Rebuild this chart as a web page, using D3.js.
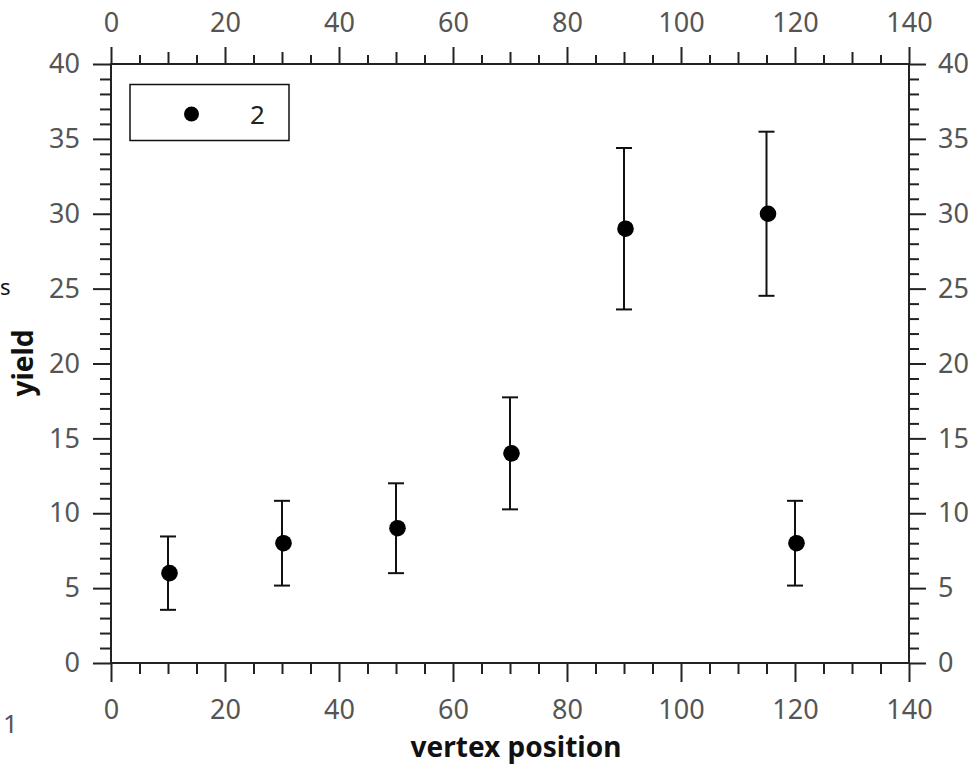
<!DOCTYPE html>
<html>
<head>
<meta charset="utf-8">
<script src="https://cdn.jsdelivr.net/npm/d3@7"></script>
<style>
  html, body { margin: 0; padding: 0; background: #fff; }
  svg { display: block; }
</style>
</head>
<body>
<svg id="chart" width="973" height="765"></svg>
<script>
// ---- data ----
const xValues = [10, 30, 50, 70, 90, 115, 120];
const yValues = [6, 8, 9, 14, 29, 30, 8];
const yErrors = [2.45, 2.83, 3.0, 3.74, 5.39, 5.48, 2.83];
const seriesName = "2";
const xTicks = [0, 20, 40, 60, 80, 100, 120, 140];
const yTicks = [0, 5, 10, 15, 20, 25, 30, 35, 40];
const xTitle = "vertex position";
const yTitle = "yield";

// ---- layout ----
const W = 973, H = 765;
const m = { left: 111, right: 64, top: 64, bottom: 102 };
const svg = d3.select("#chart");
const font = "'Noto Sans', 'Open Sans', sans-serif";
const tickFont = "27px";

const x = d3.scaleLinear().domain([0, 140]).range([m.left, W - m.right]);
const y = d3.scaleLinear().domain([0, 40]).range([H - m.bottom, m.top]);

const xMinor = d3.range(0, 141, 5).filter(v => v % 20 !== 0);
const yMinor = d3.range(0, 41, 1).filter(v => v % 5 !== 0);

function styleAxis(g, showLabels) {
  g.select(".domain").remove();
  g.selectAll(".tick line").attr("stroke", "#222").attr("stroke-width", 2);
  g.selectAll(".tick text")
    .attr("fill", "#555")
    .style("font-family", font)
    .style("font-size", tickFont);
  if (!showLabels) g.selectAll(".tick text").remove();
}

// bottom
svg.append("g").attr("transform", `translate(0,${y(0)})`)
  .call(d3.axisBottom(x).tickValues(xTicks).tickSize(19).tickPadding(18).tickFormat(d3.format("d")))
  .call(g => styleAxis(g, true));
svg.append("g").attr("transform", `translate(0,${y(0)})`)
  .call(d3.axisBottom(x).tickValues(xMinor).tickSize(11).tickFormat(""))
  .call(g => styleAxis(g, false));
// top
svg.append("g").attr("transform", `translate(0,${y(40)})`)
  .call(d3.axisTop(x).tickValues(xTicks).tickSize(17).tickPadding(15).tickFormat(d3.format("d")))
  .call(g => styleAxis(g, true));
svg.append("g").attr("transform", `translate(0,${y(40)})`)
  .call(d3.axisTop(x).tickValues(xMinor.filter(v => v % 10 !== 0)).tickSize(9).tickFormat(""))
  .call(g => styleAxis(g, false));
svg.append("g").attr("transform", `translate(0,${y(40)})`)
  .call(d3.axisTop(x).tickValues(xMinor.filter(v => v % 10 === 0)).tickSize(12).tickFormat(""))
  .call(g => styleAxis(g, false));
// left
svg.append("g").attr("transform", `translate(${x(0)},0)`)
  .call(d3.axisLeft(y).tickValues(yTicks).tickSize(18).tickPadding(13).tickFormat(d3.format("d")))
  .call(g => styleAxis(g, true));
svg.append("g").attr("transform", `translate(${x(0)},0)`)
  .call(d3.axisLeft(y).tickValues(yMinor).tickSize(11).tickFormat(""))
  .call(g => styleAxis(g, false));
// right
svg.append("g").attr("transform", `translate(${x(140)},0)`)
  .call(d3.axisRight(y).tickValues(yTicks).tickSize(17).tickPadding(12).tickFormat(d3.format("d")))
  .call(g => styleAxis(g, true));
svg.append("g").attr("transform", `translate(${x(140)},0)`)
  .call(d3.axisRight(y).tickValues(yMinor).tickSize(10).tickFormat(""))
  .call(g => styleAxis(g, false));

// frame
svg.append("rect")
  .attr("x", x(0)).attr("y", y(40))
  .attr("width", x(140) - x(0)).attr("height", y(0) - y(40))
  .attr("fill", "none").attr("stroke", "#222").attr("stroke-width", 2);

// ---- data marks ----
const data = xValues.map((v, i) => ({ x: v, y: yValues[i], e: yErrors[i] }));
const capW = 8;
const eb = svg.append("g").attr("stroke", "#111").attr("stroke-width", 2);
eb.selectAll("line.v").data(data).join("line").attr("class", "v")
  .attr("x1", d => x(d.x)).attr("x2", d => x(d.x))
  .attr("y1", d => y(d.y + d.e)).attr("y2", d => y(d.y - d.e));
eb.selectAll("line.t").data(data).join("line").attr("class", "t")
  .attr("x1", d => x(d.x) - capW).attr("x2", d => x(d.x) + capW)
  .attr("y1", d => y(d.y + d.e)).attr("y2", d => y(d.y + d.e));
eb.selectAll("line.b").data(data).join("line").attr("class", "b")
  .attr("x1", d => x(d.x) - capW).attr("x2", d => x(d.x) + capW)
  .attr("y1", d => y(d.y - d.e)).attr("y2", d => y(d.y - d.e));
svg.append("g").selectAll("circle").data(data).join("circle")
  .attr("cx", d => x(d.x) + 1.5).attr("cy", d => y(d.y)).attr("r", 8.3).attr("fill", "#000");

// ---- legend ----
const lg = svg.append("g");
lg.append("rect").attr("x", 130).attr("y", 84.5).attr("width", 159).attr("height", 56)
  .attr("fill", "#fff").attr("stroke", "#111").attr("stroke-width", 1.5);
lg.append("circle").attr("cx", 191.5).attr("cy", 114).attr("r", 7.5).attr("fill", "#000");
lg.append("text").attr("x", 250).attr("y", 123.5).text(seriesName)
  .attr("fill", "#222").style("font-family", font).style("font-size", "26px");

// ---- titles ----
svg.append("text").attr("x", 516).attr("y", 757).attr("text-anchor", "middle")
  .text(xTitle).attr("fill", "#111").style("font-family", font)
  .style("font-size", "28px").style("font-weight", "bold");
svg.append("text").attr("transform", "translate(33,363) rotate(-90)").attr("text-anchor", "middle")
  .text(yTitle).attr("fill", "#111").style("font-family", font)
  .style("font-size", "28px").style("font-weight", "bold");

// stray labels at the left edge
svg.append("text").attr("x", 0).attr("y", 295)
  .text("s").attr("fill", "#111").style("font-family", font).style("font-size", "22px");
svg.append("text").attr("x", 3).attr("y", 733)
  .text("1").attr("fill", "#555").style("font-family", font).style("font-size", "26px");
</script>
</body>
</html>
